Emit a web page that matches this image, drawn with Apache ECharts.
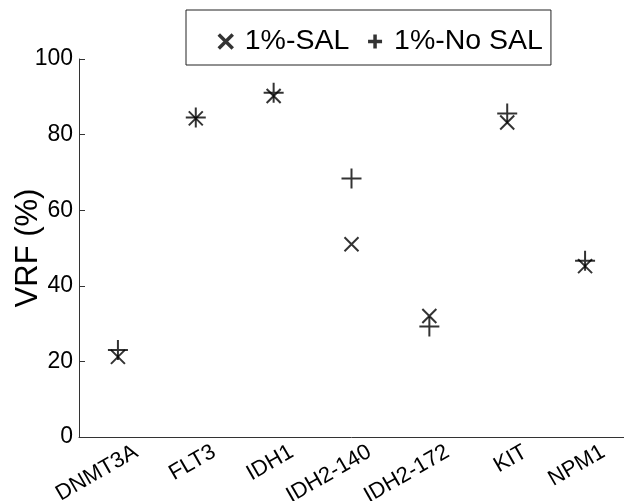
<!DOCTYPE html>
<html>
<head>
<meta charset="utf-8">
<script src="https://cdn.jsdelivr.net/npm/echarts@6/dist/echarts.min.js"></script>
<style>
  html, body { margin: 0; padding: 0; background: #fff; }
  #chart { width: 624px; height: 501px; }
</style>
</head>
<body>
<div id="chart"></div>
<script>
// genes on the x axis
const genes = ['DNMT3A', 'FLT3', 'IDH1', 'IDH2-140', 'IDH2-172', 'KIT', 'NPM1'];
// VRF (%) per gene
const salValues = [21.2, 84.3, 90.2, 51.0, 32.0, 83.2, 45.2];
const noSalValues = [23.0, 84.5, 91.1, 68.4, 29.2, 85.6, 46.6];
const yTicks = [0, 20, 40, 60, 80, 100];

const FONT = "'Liberation Sans', Arial, sans-serif";
const crossPath = 'path://M0,0L10,10M0,10L10,0';
const plusPath = 'path://M5,0L5,10M0,5L10,5';

const chart = echarts.init(document.getElementById('chart'));

let option = {
  animation: false,
  textStyle: { fontFamily: FONT },
  grid: { left: 79, right: 0, top: 59, bottom: 64, outerBoundsMode: 'none', containLabel: false },
  legend: {
    left: 186,
    top: 10,
    padding: [17, 8, 9, 31],
    borderColor: '#222',
    borderWidth: 1,
    itemGap: 17,
    itemWidth: 28,
    itemHeight: 14,
    textStyle: { fontFamily: FONT, fontSize: 28.5, color: '#000' },
    data: [
      { name: '1%-SAL', icon: crossPath, itemStyle: { borderColor: '#000', borderWidth: 3.5 } },
      { name: '1%-No SAL', icon: plusPath, itemStyle: { borderColor: '#000', borderWidth: 3.5 } }
    ]
  },
  xAxis: {
    type: 'category',
    data: genes,
    boundaryGap: true,
    axisLine: { lineStyle: { color: '#333', width: 1 } },
    axisTick: { inside: true, length: 6, alignWithLabel: true, lineStyle: { color: '#333' } },
    axisLabel: {
      interval: 0,
      rotate: 30,
      margin: 24,
      padding: [0, -21, 0, 0],
      color: '#000',
      fontSize: 22,
      fontFamily: FONT
    },
    splitLine: { show: false }
  },
  yAxis: {
    type: 'value',
    min: yTicks[0],
    max: yTicks[yTicks.length - 1],
    interval: 20,
    name: 'VRF (%)',
    nameLocation: 'middle',
    nameGap: 35,
    nameMoveOverlap: false,
    nameTextStyle: { fontSize: 31, color: '#000', fontFamily: FONT },
    axisLine: { show: true, lineStyle: { color: '#333', width: 1 } },
    axisTick: { show: true, inside: true, length: 6, lineStyle: { color: '#333' } },
    axisLabel: { margin: 6, color: '#000', fontSize: 23, fontFamily: FONT },
    splitLine: { show: false }
  },
  series: [
    {
      name: '1%-SAL',
      type: 'scatter',
      symbol: crossPath,
      symbolSize: 14,
      data: salValues,
      itemStyle: { color: '#000', borderColor: '#000', borderWidth: 2 }
    },
    {
      name: '1%-No SAL',
      type: 'scatter',
      symbol: plusPath,
      symbolSize: 20,
      data: noSalValues,
      itemStyle: { color: '#000', borderColor: '#000', borderWidth: 2 }
    }
  ]
};

chart.setOption(option);
window.addEventListener('resize', function () {
  chart.resize();
});
</script>
</body>
</html>
